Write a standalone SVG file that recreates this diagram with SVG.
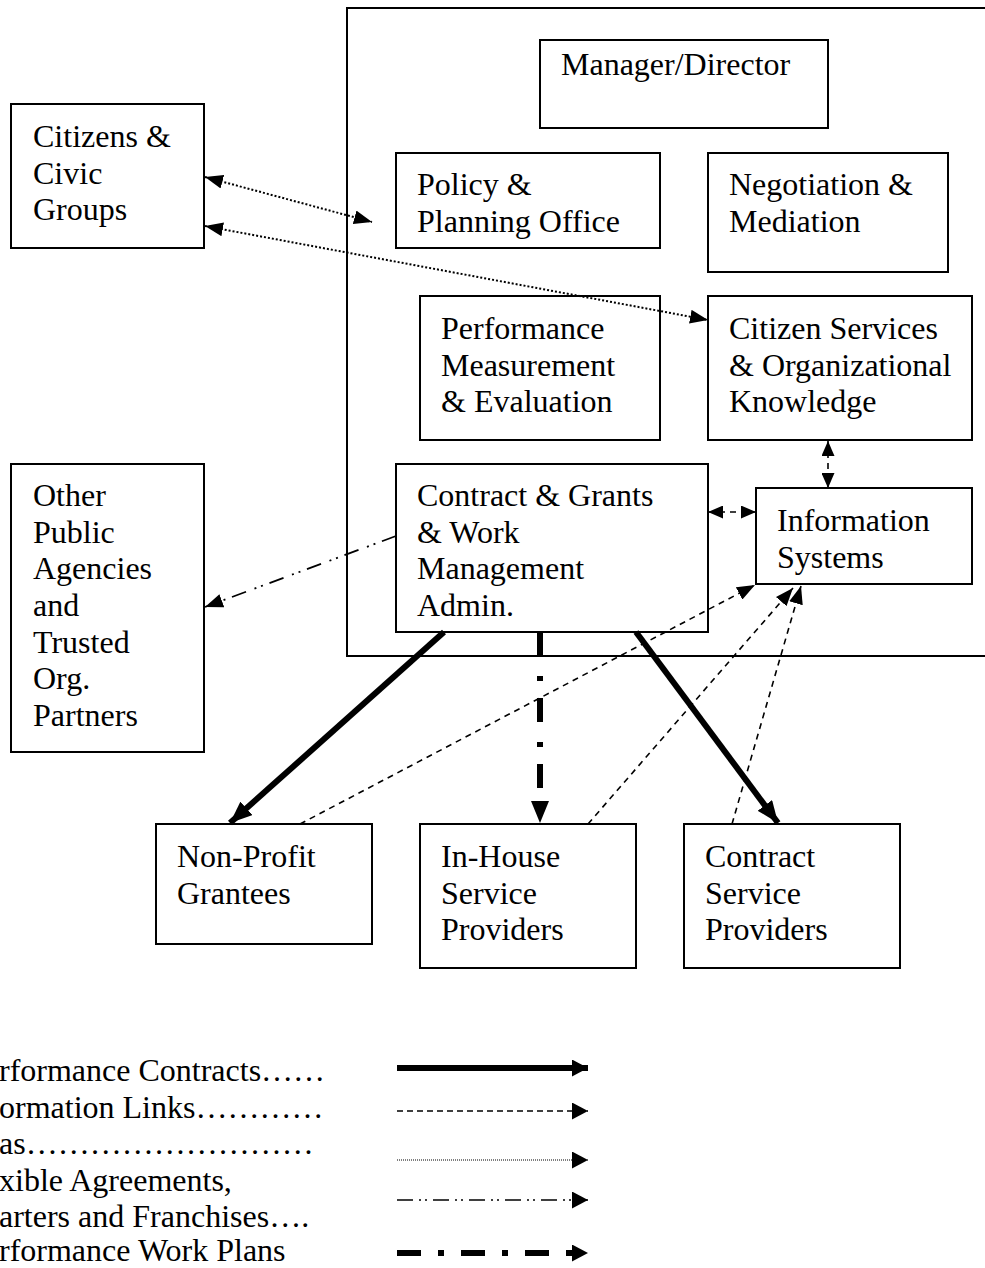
<svg xmlns="http://www.w3.org/2000/svg" width="985" height="1268" viewBox="0 0 985 1268">
<style>
  .box { fill: #fff; stroke: #000; stroke-width: 2; }
  .frame { fill: none; stroke: #000; stroke-width: 2; }
  text { font-family: "Liberation Serif", "Times New Roman", serif; font-size: 32px; fill: #000; }
  .dotted { fill: none; stroke: #000; stroke-width: 2; stroke-dasharray: 2 2; }
  .dashed { fill: none; stroke: #000; stroke-width: 1.6; stroke-dasharray: 6 5; }
  .thick { fill: none; stroke: #000; stroke-width: 6; }
  .dashdotdot { fill: none; stroke: #000; stroke-width: 1.8; stroke-dasharray: 15 7 2 5 2 9; }
  .thickdashdot { fill: none; stroke: #000; stroke-width: 6; stroke-dasharray: 24 20 5 17; }
</style>
<defs>
  <marker id="ah" viewBox="0 0 18 14" refX="18" refY="7" markerWidth="18" markerHeight="14" markerUnits="userSpaceOnUse" orient="auto-start-reverse">
    <path d="M0,0 L18,7 L0,14 z" fill="#000"/>
  </marker>
  <marker id="ahd" viewBox="0 0 15 13" refX="15" refY="6.5" markerWidth="15" markerHeight="13" markerUnits="userSpaceOnUse" orient="auto-start-reverse">
    <path d="M0,0 L15,6.5 L0,13 z" fill="#000"/>
  </marker>
  <marker id="ahb" viewBox="0 0 22 18" refX="22" refY="9" markerWidth="22" markerHeight="18" markerUnits="userSpaceOnUse" orient="auto">
    <path d="M0,0 L22,9 L0,18 z" fill="#000"/>
  </marker>
  <marker id="ahl" viewBox="0 0 16 17" refX="16" refY="8.5" markerWidth="16" markerHeight="17" markerUnits="userSpaceOnUse" orient="auto">
    <path d="M0,0 L16,8.5 L0,17 z" fill="#000"/>
  </marker>
</defs>

<rect class="frame" x="347" y="8" width="700" height="648"/>

<g id="manager">
  <rect class="box" x="540" y="40" width="288" height="88"/>
  <text x="561" y="75">Manager/Director</text>
</g>
<g id="citizens">
  <rect class="box" x="11" y="104" width="193" height="144"/>
  <text x="33" y="147">Citizens &amp;</text>
  <text x="33" y="184">Civic</text>
  <text x="33" y="220">Groups</text>
</g>
<g id="policy">
  <rect class="box" x="396" y="153" width="264" height="95"/>
  <text x="417" y="195">Policy &amp;</text>
  <text x="417" y="232">Planning Office</text>
</g>
<g id="negotiation">
  <rect class="box" x="708" y="153" width="240" height="119"/>
  <text x="729" y="195">Negotiation &amp;</text>
  <text x="729" y="232">Mediation</text>
</g>
<g id="performance">
  <rect class="box" x="420" y="296" width="240" height="144"/>
  <text x="441" y="339">Performance</text>
  <text x="441" y="376">Measurement</text>
  <text x="441" y="412">&amp; Evaluation</text>
</g>
<g id="citizen-services">
  <rect class="box" x="708" y="296" width="264" height="144"/>
  <text x="729" y="339">Citizen Services</text>
  <text x="729" y="376">&amp; Organizational</text>
  <text x="729" y="412">Knowledge</text>
</g>
<g id="contracts">
  <rect class="box" x="396" y="464" width="312" height="168"/>
  <text x="417" y="506">Contract &amp; Grants</text>
  <text x="417" y="543">&amp; Work</text>
  <text x="417" y="579">Management</text>
  <text x="417" y="616">Admin.</text>
</g>
<g id="info-systems">
  <rect class="box" x="756" y="488" width="216" height="96"/>
  <text x="777" y="531">Information</text>
  <text x="777" y="568">Systems</text>
</g>
<g id="other-agencies">
  <rect class="box" x="11" y="464" width="193" height="288"/>
  <text x="33" y="506">Other</text>
  <text x="33" y="543">Public</text>
  <text x="33" y="579">Agencies</text>
  <text x="33" y="616">and</text>
  <text x="33" y="653">Trusted</text>
  <text x="33" y="689">Org.</text>
  <text x="33" y="726">Partners</text>
</g>
<g id="non-profit">
  <rect class="box" x="156" y="824" width="216" height="120"/>
  <text x="177" y="867">Non-Profit</text>
  <text x="177" y="904">Grantees</text>
</g>
<g id="in-house">
  <rect class="box" x="420" y="824" width="216" height="144"/>
  <text x="441" y="867">In-House</text>
  <text x="441" y="904">Service</text>
  <text x="441" y="940">Providers</text>
</g>
<g id="contract-providers">
  <rect class="box" x="684" y="824" width="216" height="144"/>
  <text x="705" y="867">Contract</text>
  <text x="705" y="904">Service</text>
  <text x="705" y="940">Providers</text>
</g>

<g id="connectors">
  <line class="dotted" x1="205" y1="177" x2="372" y2="222" marker-start="url(#ah)" marker-end="url(#ah)"/>
  <line class="dotted" x1="205" y1="226" x2="708" y2="320" marker-start="url(#ah)" marker-end="url(#ah)"/>
  <line class="dashdotdot" x1="396" y1="536" x2="205" y2="607" marker-end="url(#ah)"/>
  <line class="dashed" x1="708" y1="512" x2="756" y2="512" marker-start="url(#ahd)" marker-end="url(#ahd)"/>
  <line class="dashed" x1="828" y1="441" x2="828" y2="488" marker-start="url(#ahd)" marker-end="url(#ahd)"/>
  <line class="thick" x1="444" y1="632" x2="230" y2="823" marker-end="url(#ahb)"/>
  <line class="thickdashdot" x1="540" y1="632" x2="540" y2="823" marker-end="url(#ahb)"/>
  <line class="thick" x1="636" y1="632" x2="778" y2="823" marker-end="url(#ahb)"/>
  <line class="dashed" x1="300" y1="824" x2="755" y2="585" marker-end="url(#ah)"/>
  <line class="dashed" x1="588" y1="824" x2="793" y2="588" marker-end="url(#ah)"/>
  <line class="dashed" x1="732" y1="824" x2="801" y2="586" marker-end="url(#ah)"/>
</g>

<g id="legend">
  <text x="-1" y="1081">rformance Contracts……</text>
  <text x="-1" y="1118">ormation Links…………</text>
  <text x="-1" y="1154">as………………………</text>
  <text x="-1" y="1191">xible Agreements,</text>
  <text x="-1" y="1227">arters and Franchises….</text>
  <text x="-1" y="1261">rformance Work Plans</text>
  <line x1="397" y1="1068" x2="588" y2="1068" stroke="#000" stroke-width="6" marker-end="url(#ahl)"/>
  <line x1="397" y1="1111" x2="588" y2="1111" stroke="#000" stroke-width="1.6" stroke-dasharray="6 4" marker-end="url(#ahl)"/>
  <line x1="397" y1="1160" x2="588" y2="1160" stroke="#000" stroke-width="1" stroke-dasharray="1 1" marker-end="url(#ahl)"/>
  <line x1="397" y1="1200" x2="588" y2="1200" stroke="#000" stroke-width="1.6" stroke-dasharray="16 6 2 4 2 6" marker-end="url(#ahl)"/>
  <line x1="397" y1="1253" x2="588" y2="1253" stroke="#000" stroke-width="6" stroke-dasharray="24 17 6 17" marker-end="url(#ahl)"/>
</g>
</svg>
